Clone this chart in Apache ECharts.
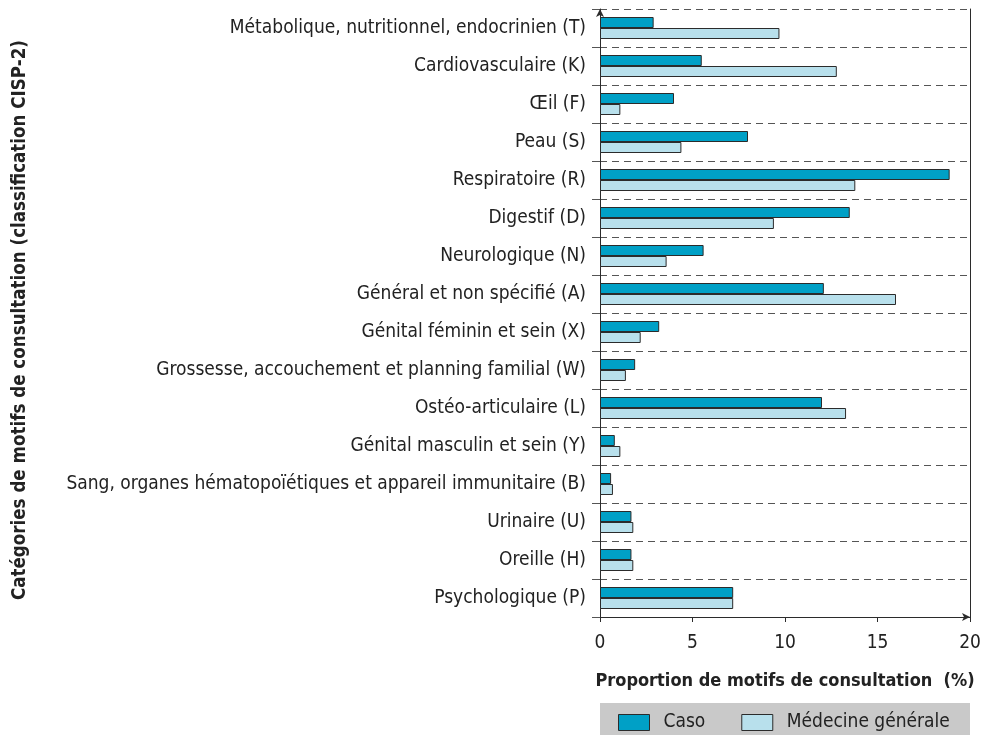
<!DOCTYPE html>
<html style="height: 100%">
<head>
<meta charset="utf-8">
<script src="https://cdn.jsdelivr.net/npm/echarts@6/dist/echarts.min.js"></script>
</head>
<body style="height: 100%; margin: 0; background: #fff">
<div id="container" style="width: 982px; height: 735px"></div>
<script type="text/javascript">

// categories, top to bottom as in the figure
var categories = [
    'Métabolique, nutritionnel, endocrinien (T)',
    'Cardiovasculaire (K)',
    'Œil (F)',
    'Peau (S)',
    'Respiratoire (R)',
    'Digestif (D)',
    'Neurologique (N)',
    'Général et non spécifié (A)',
    'Génital féminin et sein (X)',
    'Grossesse, accouchement et planning familial (W)',
    'Ostéo-articulaire (L)',
    'Génital masculin et sein (Y)',
    'Sang, organes hématopoïétiques et appareil immunitaire (B)',
    'Urinaire (U)',
    'Oreille (H)',
    'Psychologique (P)'
];
var caso = [2.9, 5.5, 4.0, 8.0, 18.9, 13.5, 5.6, 12.1, 3.2, 1.9, 12.0, 0.8, 0.6, 1.7, 1.7, 7.2];
var medecineGenerale = [9.7, 12.8, 1.1, 4.4, 13.8, 9.4, 3.6, 16.0, 2.2, 1.4, 13.3, 1.1, 0.7, 1.8, 1.8, 7.2];
var xTicks = [0, 5, 10, 15, 20];

var font = '"DejaVu Sans Condensed", "Liberation Sans", sans-serif';
var dark = '#2b2b2b';

// y axis runs bottom -> top, so feed it reversed copies
var cats = categories.slice().reverse();

var option = {
    animation: false,
    textStyle: {fontFamily: font},
    grid: {left: 600, right: 12, top: 9, bottom: 118, outerBoundsMode: 'none', containLabel: false},
    legend: {
        data: ['Caso', 'Médecine générale'],
        left: 618,
        top: 713,
        padding: 0,
        icon: 'rect',
        itemWidth: 31,
        itemHeight: 16,
        itemGap: 36,
        textStyle: {fontFamily: font, fontSize: 19, color: '#222', padding: [0, 0, 0, 9]},
        itemStyle: {borderColor: dark, borderWidth: 1}
    },
    graphic: [{
        type: 'rect',
        z: -1,
        shape: {x: 600, y: 703, width: 370, height: 32},
        style: {fill: '#c9c9c9'}
    }, {
        type: 'text',
        left: 11,
        top: 40,
        rotation: Math.PI / 2,
        style: {
            text: 'Catégories de motifs de consultation (classification CISP-2)',
            font: 'bold 18.6px ' + font,
            fill: '#222'
        }
    }],
    xAxis: {
        type: 'value',
        min: 0,
        max: 20,
        interval: 5,
        name: 'Proportion de motifs de consultation  (%)',
        nameLocation: 'middle',
        nameGap: 55,
        nameTextStyle: {fontFamily: font, fontSize: 18, fontWeight: 'bold', color: '#222'},
        axisLine: {show: true, symbol: ['none', 'arrow'], symbolSize: [6, 8], lineStyle: {color: dark}},
        axisTick: {show: true, length: 5, lineStyle: {color: dark}},
        axisLabel: {fontSize: 19, color: '#222', margin: 17,
            formatter: function (v) { return xTicks.indexOf(v) >= 0 ? String(v) : ''; }},
        splitLine: {show: false}
    },
    yAxis: [{
        type: 'category',
        data: cats,
        axisLine: {show: true, symbol: ['none', 'arrow'], symbolSize: [6, 8], lineStyle: {color: dark}},
        axisTick: {show: true, length: 8, lineStyle: {color: '#555'}},
        axisLabel: {fontSize: 19, color: '#222', margin: 14},
        splitLine: {show: true, lineStyle: {color: '#555', type: [7, 5], width: 1}}
    }, {
        type: 'category',
        data: cats,
        position: 'right',
        axisLine: {show: true, lineStyle: {color: dark}},
        axisTick: {show: false},
        axisLabel: {show: false},
        splitLine: {show: false}
    }],
    series: [{
        name: 'Caso',
        type: 'bar',
        data: caso.slice().reverse(),
        barWidth: 11,
        barGap: '0%',
        itemStyle: {color: '#00a0c6', borderColor: dark, borderWidth: 1}
    }, {
        name: 'Médecine générale',
        type: 'bar',
        data: medecineGenerale.slice().reverse(),
        barWidth: 11,
        barGap: '0%',
        itemStyle: {color: '#b8e0ec', borderColor: dark, borderWidth: 1}
    }]
};

var myChart = echarts.init(document.getElementById('container'));
myChart.setOption(option);

</script>
</body>
</html>
